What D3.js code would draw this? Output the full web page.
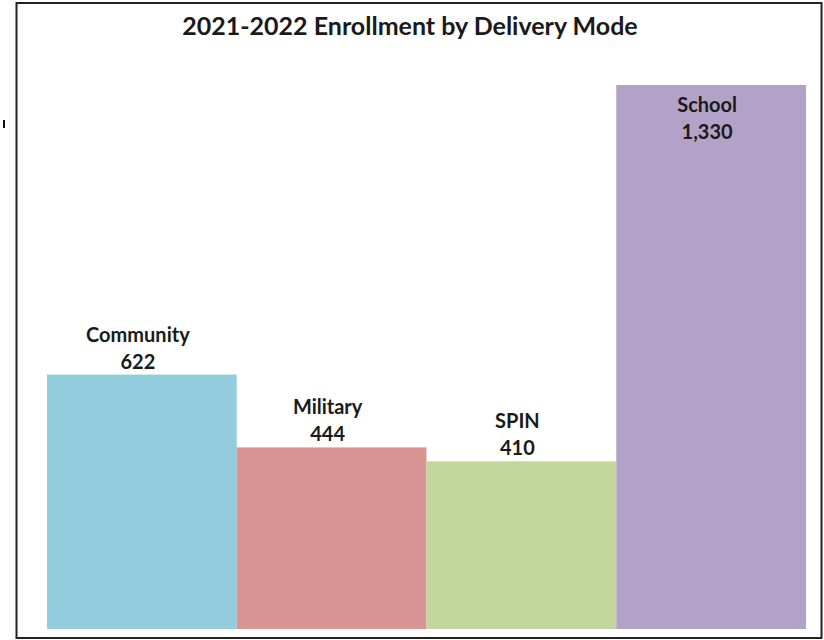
<!DOCTYPE html>
<html>
<head>
<meta charset="utf-8">
<script src="https://cdn.jsdelivr.net/npm/d3@7"></script>
<style>
  body { margin: 0; background: #fff; }
  text { font-family: Lato, "Open Sans", sans-serif; font-weight: bold; fill: #1a1a1a; }
</style>
</head>
<body>
<div class="chart"></div>
<script>
// data
var modes = ["Community", "Military", "SPIN", "School"];
var enrollment = [622, 444, 410, 1330];
var colors = ["#93cddd", "#d99594", "#c3d69b", "#b3a2c7"];

var W = 824, H = 640;
var margin = {top: 85, right: 18, bottom: 11, left: 47},
    width = W - margin.left - margin.right,
    height = H - margin.top - margin.bottom;

var svg = d3.select(".chart").append("svg")
    .attr("width", W)
    .attr("height", H);

// outer frame
svg.append("rect")
    .attr("x", 16.5).attr("y", 3).attr("width", 805).attr("height", 635)
    .attr("fill", "none").attr("stroke", "#222").attr("stroke-width", 2);

// stray mark at the left edge
svg.append("rect").attr("x", 3).attr("y", 120).attr("width", 2).attr("height", 8).attr("fill", "#111");

svg.append("text")
    .attr("x", 410).attr("y", 35)
    .attr("text-anchor", "middle")
    .style("font-size", "25px")
    .text("2021-2022 Enrollment by Delivery Mode");

var g = svg.append("g")
    .attr("transform", "translate(" + margin.left + "," + margin.top + ")");

var x = d3.scaleBand().domain(modes).range([0, width]).padding(0);
var y = d3.scaleLinear().domain([0, 1330]).range([height, 0]);

var rows = modes.map(function(m, i) { return {mode: m, value: enrollment[i], color: colors[i]}; });

g.selectAll("rect.bar")
  .data(rows)
  .enter().append("rect")
    .attr("class", "bar")
    .attr("x", function(d) { return x(d.mode); })
    .attr("width", x.bandwidth())
    .attr("y", function(d) { return y(d.value); })
    .attr("height", function(d) { return height - y(d.value); })
    .attr("fill", function(d) { return d.color; });

// labels: above the bar, or inside when the bar reaches the top
var fmt = d3.format(",");
var lab = g.selectAll("g.lab")
  .data(rows)
  .enter().append("g")
    .attr("class", "lab")
    .attr("transform", function(d) {
      var top = y(d.value);
      var base = top < 40 ? top + 27 : top - 33;
      return "translate(" + (x(d.mode) + x.bandwidth() / 2 - 4) + "," + base + ")";
    });

lab.append("text")
    .attr("text-anchor", "middle")
    .style("font-size", "20px")
    .text(function(d) { return d.mode; });

lab.append("text")
    .attr("text-anchor", "middle")
    .attr("y", 27)
    .style("font-size", "20px")
    .text(function(d) { return fmt(d.value); });
</script>
</body>
</html>
